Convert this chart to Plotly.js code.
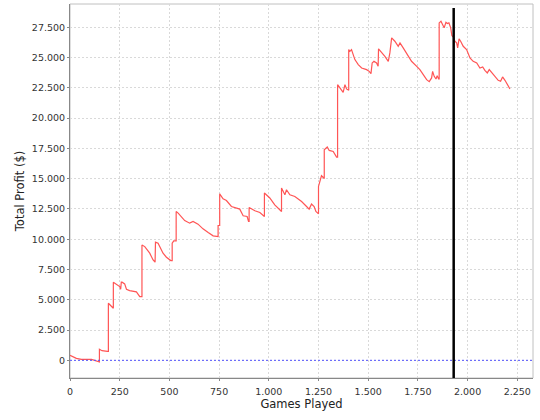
<!DOCTYPE html>
<html>
<head>
<meta charset="utf-8">
<script src="https://cdn.plot.ly/plotly-3.0.1.min.js"></script>
<style>html,body{margin:0;padding:0;background:#fff;}#chart{width:540px;height:420px;}</style>
</head>
<body>
<div id="chart"></div>
<script>
const gamesPlayed = [0,15,32,57,108,124,141,148,148,161,188,193,193,208,218,218,238,250,255,258,262,275,284,300,334,351,362,362,376,401,418,428,430,443,468,485,507,514,514,522,534,534,544,561,577,602,619,644,669,695,720,745,745,753,753,770,787,812,838,854,871,891,898,901,901,930,955,975,978,978,1005,1030,1039,1060,1064,1064,1081,1089,1106,1131,1165,1190,1203,1215,1228,1237,1248,1250,1250,1265,1277,1279,1279,1294,1304,1324,1341,1346,1346,1358,1374,1383,1391,1402,1402,1408,1416,1433,1450,1467,1492,1505,1514,1520,1529,1542,1550,1552,1567,1584,1601,1609,1618,1634,1651,1660,1676,1701,1718,1744,1760,1777,1794,1807,1819,1824,1832,1841,1847,1854,1857,1857,1866,1874,1882,1891,1898,1906,1915,1921,1928,1936,1945,1950,1957,1965,1978,1995,2012,2028,2046,2062,2076,2087,2099,2109,2121,2138,2154,2166,2176,2188,2202,2213];
const totalProfit = [420,270,165,80,80,0,-140,-140,910,795,740,740,4710,4430,4300,6450,6225,6085,5870,6450,6450,6310,5870,5755,5650,5260,5260,9530,9390,8845,8290,8100,9755,9670,8845,8515,8235,8235,9670,9860,9860,12290,12150,11825,11540,11325,11460,11245,10855,10550,10280,10220,11130,11130,13750,13335,13195,12700,12565,12485,11930,11875,11460,11460,12620,12345,12205,11875,11875,13810,13400,12840,12700,12290,12290,14220,13665,14080,13665,13530,13115,12700,12485,12900,12700,12290,12095,12095,14355,15240,15050,15050,17390,17610,17330,17250,16785,16785,22760,22490,22125,22760,22405,22300,25655,25515,25650,24830,24415,24140,24000,23860,23670,24555,24690,24555,24275,25715,25430,25100,24690,25380,26620,26345,25930,26210,25795,25100,24690,24275,24000,23590,23175,23010,23315,23860,23450,23230,23505,23230,23230,27860,28000,27720,27450,27910,27805,27860,27450,26810,26705,26345,26210,25795,26540,26345,25930,25655,24970,24690,24555,24140,24225,23945,23730,24000,23780,23400,23120,23035,23400,23120,22760,22405];
const markerGame = 1930;
const zeroLevel = 0;
const xTickStep = 250;
const yTickStep = 2500;

const tickFont = {family: 'DejaVu Sans, sans-serif', size: 9.5, color: '#333333'};
const titleFont = {family: 'DejaVu Sans, sans-serif', size: 11.5, color: '#222222'};

const traces = [{
  x: gamesPlayed,
  y: totalProfit,
  type: 'scatter',
  mode: 'lines',
  line: {color: '#ff5555', width: 1.2},
  hoverinfo: 'x+y',
  showlegend: false
}];

const layout = {
  width: 540, height: 420,
  margin: {l: 70, r: 7, t: 4, b: 42},
  paper_bgcolor: '#ffffff',
  plot_bgcolor: '#ffffff',
  separators: ',.',
  showlegend: false,
  xaxis: {
    range: [0, 2329],
    tick0: 0, dtick: xTickStep,
    tickformat: ',d',
    showgrid: true, gridcolor: '#d9d9d9', griddash: '2px,2px', gridwidth: 1,
    zeroline: false,
    showline: true, linecolor: '#888888', linewidth: 1,
    ticks: 'outside', ticklen: 2, tickcolor: '#888888',
    ticklabelstandoff: 3,
    tickfont: tickFont,
    title: {text: 'Games Played', font: titleFont, standoff: 3}
  },
  yaxis: {
    range: [-1460, 29420],
    tick0: 0, dtick: yTickStep,
    tickformat: ',d',
    showgrid: true, gridcolor: '#d9d9d9', griddash: '2px,2px', gridwidth: 1,
    zeroline: false,
    showline: true, linecolor: '#888888', linewidth: 1,
    ticks: 'outside', ticklen: 2, tickcolor: '#888888',
    tickfont: tickFont,
    title: {text: 'Total Profit ($)', font: titleFont, standoff: 4}
  },
  shapes: [
    {type: 'rect', xref: 'paper', yref: 'paper', x0: 0, x1: 1, y0: 0, y1: 1,
     line: {color: '#c0c0c0', width: 1}, layer: 'below'},
    {type: 'line', xref: 'paper', yref: 'y', x0: 0, x1: 1, y0: zeroLevel, y1: zeroLevel,
     line: {color: '#5555ff', width: 1, dash: '2px,2px'}, layer: 'above'},
    {type: 'line', xref: 'x', yref: 'paper', x0: markerGame, x1: markerGame, y0: 0, y1: 0.989,
     line: {color: '#000000', width: 2.5}, layer: 'above'}
  ]
};

Plotly.newPlot('chart', traces, layout, {staticPlot: true, displayModeBar: false});
</script>
</body>
</html>
